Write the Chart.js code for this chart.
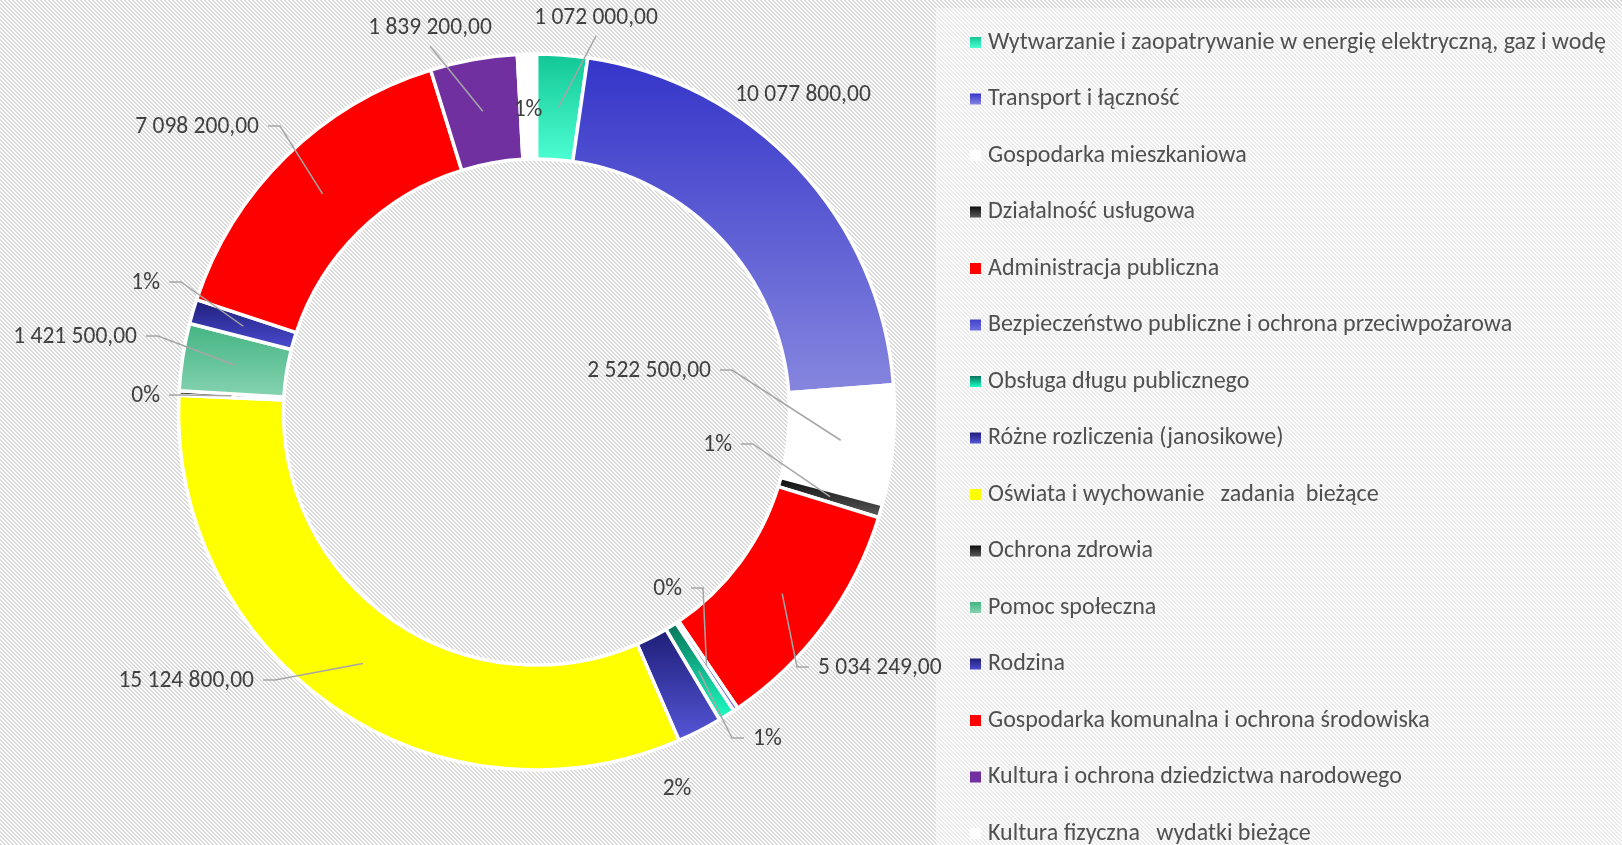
<!DOCTYPE html>
<html>
<head>
<meta charset="utf-8">
<script src="https://cdn.jsdelivr.net/npm/chart.js@4.4.1/dist/chart.umd.min.js"></script>
<style>
  html, body { margin: 0; padding: 0; overflow: hidden; background: #fff; }
</style>
</head>
<body>
<canvas id="budget-chart" width="1622" height="845"></canvas>
<script>
// Wydatki budżetu wg działów (kolejność zgodna z legendą)
const categories = [
    'Wytwarzanie i zaopatrywanie w energię elektryczną, gaz i wodę',
    'Transport i łączność',
    'Gospodarka mieszkaniowa',
    'Działalność usługowa',
    'Administracja publiczna',
    'Bezpieczeństwo publiczne i ochrona przeciwpożarowa',
    'Obsługa długu publicznego',
    'Różne rozliczenia (janosikowe)',
    'Oświata i wychowanie   zadania  bieżące',
    'Ochrona zdrowia',
    'Pomoc społeczna',
    'Rodzina',
    'Gospodarka komunalna i ochrona środowiska',
    'Kultura i ochrona dziedzictwa narodowego',
    'Kultura fizyczna   wydatki bieżące'
];
const values = [1072000, 10077800, 2522500, 280000, 5034249, 100000, 350000, 950000, 15124800, 90000, 1421500, 520000, 7098200, 1839200, 400000];
// co pokazuje etykieta danej części: kwotę czy udział procentowy
const labelKinds = ['value', 'value', 'value', 'percent', 'value', 'percent', 'percent', 'percent', 'value', 'percent', 'value', 'percent', 'value', 'value', 'percent'];

// gradient pionowy (góra -> dół) dla każdej części
const fillStops = [
    ['#12c795', '#4cffd3'],
    ['#3434c9', '#8686df'],
    ['#ffffff', '#ffffff'],
    ['#0d0d0d', '#5a5a5a'],
    ['#ff0000', '#ff0000'],
    ['#4040c8', '#7070e0'],
    ['#08735a', '#1cffc4'],
    ['#1e1e78', '#5656d8'],
    ['#ffff00', '#ffff00'],
    ['#0d0d0d', '#5a5a5a'],
    ['#43b482', '#85d3b0'],
    ['#1f1f7a', '#4b4bd2'],
    ['#ff0000', '#ff0000'],
    ['#7030a0', '#7030a0'],
    ['#ffffff', '#ffffff']
];

// położenie etykiet względem środka wykresu: [dx, dy, wyrównanie, linia odniesienia]
const labelPlacement = [
    [59.5, -394, 'center', 'below'],
    [266.5, -317, 'center', 'none'],
    [174.5, -41, 'right', 'elbow'],
    [195.5, 33, 'right', 'elbow'],
    [281.5, 256, 'left', 'elbow'],
    [145.5, 177, 'right', 'elbow'],
    [216.5, 327, 'left', 'elbow'],
    [140.5, 377, 'center', 'none'],
    [-282.5, 269, 'right', 'elbow'],
    [-376.5, -16, 'right', 'elbow'],
    [-399.5, -75, 'right', 'elbow'],
    [-376.5, -129, 'right', 'elbow'],
    [-277.5, -285, 'right', 'elbow'],
    [-106.5, -384, 'center', 'below'],
    [-8.5, -302, 'center', 'none']
];

const OUTER_R = 358;
const INNER_R = 253;
const FONT = 'Carlito, Lato, sans-serif';
const total = values.reduce((a, b) => a + b, 0);

function formatValue(v) {
    return String(Math.round(v)).replace(/\B(?=(\d{3})+(?!\d))/g, ' ') + ',00';
}

function labelText(i) {
    if (labelKinds[i] === 'percent') return Math.round(values[i] / total * 100) + '%';
    return formatValue(values[i]);
}

function segmentFill(context) {
    const i = context.dataIndex;
    const stops = fillStops[i];
    const area = context.chart.chartArea;
    if (!area || stops[0] === stops[1]) return stops[0];
    const cy = (area.top + area.bottom) / 2;
    let before = 0;
    for (let k = 0; k < i; k++) before += values[k];
    const a0 = -Math.PI / 2 + 2 * Math.PI * before / total;
    const a1 = a0 + 2 * Math.PI * values[i] / total;
    let minY = Infinity, maxY = -Infinity;
    for (let s = 0; s <= 32; s++) {
        const a = a0 + (a1 - a0) * s / 32;
        for (const r of [OUTER_R, INNER_R]) {
            const y = cy + r * Math.sin(a);
            minY = Math.min(minY, y);
            maxY = Math.max(maxY, y);
        }
    }
    const g = context.chart.ctx.createLinearGradient(0, minY, 0, maxY);
    g.addColorStop(0, stops[0]);
    g.addColorStop(1, stops[1]);
    return g;
}

function stripePattern(ctx) {
    const c = document.createElement('canvas');
    c.width = 4; c.height = 4;
    const p = c.getContext('2d');
    p.fillStyle = '#ffffff';
    p.fillRect(0, 0, 4, 4);
    p.fillStyle = '#d9d9d9';
    for (let y = 0; y < 4; y++) {
        for (let x = 0; x < 4; x++) {
            if (((x - y) % 4 + 4) % 4 < 2) p.fillRect(x, y, 1, 1);
        }
    }
    return ctx.createPattern(c, 'repeat');
}

const backgroundPlugin = {
    id: 'stripedBackground',
    beforeDraw(chart) {
        const ctx = chart.ctx;
        ctx.save();
        ctx.fillStyle = stripePattern(ctx);
        ctx.fillRect(0, 0, chart.width, chart.height);
        // jaśniejsze pole legendy
        ctx.fillStyle = 'rgba(255,255,255,0.45)';
        ctx.fillRect(936, 8, chart.width - 936, chart.height - 8);
        ctx.restore();
    }
};

const labelsPlugin = {
    id: 'leaderLabels',
    afterDatasetsDraw(chart) {
        const ctx = chart.ctx;
        const arcs = chart.getDatasetMeta(0).data;
        ctx.save();
        ctx.font = '23.5px ' + FONT;
        ctx.textBaseline = 'middle';
        arcs.forEach((arc, i) => {
            const p = arc.getProps(['x', 'y', 'startAngle', 'endAngle', 'innerRadius', 'outerRadius'], true);
            const mid = (p.startAngle + p.endAngle) / 2;
            const rMid = (p.innerRadius + p.outerRadius) / 2;
            const tx = p.x + Math.cos(mid) * rMid;
            const ty = p.y + Math.sin(mid) * rMid;
            const [dx, dy, align, leader] = labelPlacement[i];
            const lx = p.x + dx;
            const ly = p.y + dy;

            ctx.strokeStyle = '#a6a6a6';
            ctx.lineWidth = 1.5;
            if (leader === 'elbow') {
                const dir = align === 'right' ? 1 : -1;
                ctx.beginPath();
                ctx.moveTo(lx + dir * 9, ly - 1);
                ctx.lineTo(lx + dir * 21, ly - 1);
                ctx.lineTo(tx, ty);
                ctx.stroke();
            } else if (leader === 'below') {
                ctx.beginPath();
                ctx.moveTo(lx, ly + 18);
                ctx.lineTo(tx, ty);
                ctx.stroke();
            }

            ctx.fillStyle = '#404040';
            ctx.textAlign = align;
            ctx.fillText(labelText(i), lx, ly);
        });
        ctx.restore();
    }
};

const legendPlugin = {
    id: 'sideLegend',
    afterDraw(chart) {
        const ctx = chart.ctx;
        ctx.save();
        ctx.font = '24px ' + FONT;
        ctx.textBaseline = 'middle';
        ctx.textAlign = 'left';
        categories.forEach((name, i) => {
            const y = 42.5 + i * 56.5;
            const g = ctx.createLinearGradient(0, y - 5.5, 0, y + 5.5);
            g.addColorStop(0, fillStops[i][0]);
            g.addColorStop(1, fillStops[i][1]);
            ctx.fillStyle = g;
            ctx.fillRect(970, y - 5.5, 11, 11);
            ctx.fillStyle = '#505050';
            ctx.fillText(name, 988, y);
        });
        ctx.restore();
    }
};

new Chart(document.getElementById('budget-chart'), {
    type: 'doughnut',
    data: {
        labels: categories,
        datasets: [{
            data: values,
            backgroundColor: segmentFill,
            borderColor: '#ffffff',
            borderWidth: 3.5,
            hoverOffset: 0
        }]
    },
    options: {
        responsive: false,
        animation: false,
        cutout: (INNER_R / OUTER_R * 100) + '%',
        radius: OUTER_R,
        layout: { padding: { left: 178.5, right: 727.5, top: 54, bottom: 75 } },
        plugins: {
            legend: { display: false },
            tooltip: { enabled: false }
        }
    },
    plugins: [backgroundPlugin, labelsPlugin, legendPlugin]
});
</script>
</body>
</html>
